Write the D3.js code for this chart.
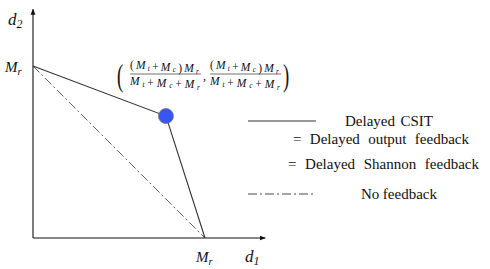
<!DOCTYPE html>
<html>
<head>
<meta charset="utf-8">
<script src="https://cdn.jsdelivr.net/npm/d3@7"></script>
<style>
  body { margin: 0; background: #fff; }
  text { font-family: "Liberation Serif", "DejaVu Serif", serif; fill: #111; }
</style>
</head>
<body>
<script>
// region corners, in units of M_r
const csitRegion = [[0, 1], [0.773, 0.709], [1, 0]];
const noFeedback = [[0, 1], [1, 0]];
const cornerPoint = [0.773, 0.709];
const legendItems = [
  { label: "Delayed CSIT", line: "solid" },
  { label: "= Delayed output feedback", line: null },
  { label: "= Delayed Shannon feedback", line: null },
  { label: "No feedback", line: "dashdot" }
];

let width = 490, height = 269;

let svg = d3.select('body')
  .append('svg')
    .attr('width', width)
    .attr('height', height);

let xScale = d3.scaleLinear().domain([0, 1]).range([33, 205]);
let yScale = d3.scaleLinear().domain([0, 1]).range([238, 66]);

svg.append('defs').append('marker')
    .attr('id', 'arr')
    .attr('viewBox', '0 0 10 10')
    .attr('refX', 9).attr('refY', 5)
    .attr('markerWidth', 6).attr('markerHeight', 6)
    .attr('markerUnits', 'userSpaceOnUse')
    .attr('orient', 'auto')
  .append('path')
    .attr('d', 'M0,1 L10,5 L0,9 z')
    .attr('fill', '#111');

// axes
svg.append('line')
  .attr('x1', xScale(0)).attr('y1', yScale(0))
  .attr('x2', xScale(1.35)).attr('y2', yScale(0))
  .attr('stroke', '#111').attr('stroke-width', 1.1)
  .attr('marker-end', 'url(#arr)');

svg.append('line')
  .attr('x1', xScale(0)).attr('y1', yScale(0))
  .attr('x2', xScale(0)).attr('y2', yScale(1.33))
  .attr('stroke', '#111').attr('stroke-width', 1.1)
  .attr('marker-end', 'url(#arr)');

let line = d3.line().x(d => xScale(d[0])).y(d => yScale(d[1]));

svg.append('path')
  .attr('d', line(noFeedback))
  .attr('fill', 'none')
  .attr('stroke', '#333')
  .attr('stroke-width', 0.8)
  .attr('stroke-dasharray', '9,3,2,3');

svg.append('path')
  .attr('d', line(csitRegion))
  .attr('fill', 'none')
  .attr('stroke', '#333')
  .attr('stroke-width', 1.1);

svg.append('circle')
  .attr('cx', xScale(cornerPoint[0]))
  .attr('cy', yScale(cornerPoint[1]))
  .attr('r', 7.5)
  .attr('fill', '#3a55f5')
  .attr('stroke', '#777')
  .attr('stroke-width', 0.8);

// axis labels
function mathLabel(x, y, main, sub, size) {
  let t = svg.append('text').attr('x', x).attr('y', y)
    .style('font-style', 'italic').style('font-size', size + 'px');
  t.append('tspan').text(main);
  t.append('tspan').attr('dy', 3).style('font-size', (size * 0.7) + 'px').text(sub);
  return t;
}
mathLabel(8, 25, 'd', '2', 17);
mathLabel(5, 72, 'M', 'r', 15);
mathLabel(196, 262, 'M', 'r', 15);
mathLabel(245, 262, 'd', '1', 17);

// corner-point formula
function mathRow(g, x, y, parts, len) {
  let t = g.append('text').attr('x', x).attr('y', y).style('font-size', '11.5px');
  parts.forEach(p => {
    if (p.length === 2) {
      t.append('tspan').style('font-style', 'italic').text(p[0]);
      t.append('tspan').attr('dy', 1.5).style('font-size', '7.5px').style('font-style', 'italic').text(p[1]);
      t.append('tspan').attr('dy', -1.5).text('');
    } else {
      t.append('tspan').text(p[0]);
    }
  });
  t.attr('textLength', len).attr('lengthAdjust', 'spacing');
  return t;
}
let numParts = [['('], ['M', 't'], ['+'], ['M', 'c'], [')'], ['M', 'r']];
let denParts = [['M', 't'], ['+'], ['M', 'c'], ['+'], ['M', 'r']];
let f = svg.append('g');
[130, 210].forEach(x0 => {
  mathRow(f, x0, 69, numParts, 69);
  mathRow(f, x0, 85, denParts, 70);
  f.append('line').attr('x1', x0).attr('x2', x0 + 71).attr('y1', 74).attr('y2', 74)
    .attr('stroke', '#111').attr('stroke-width', 0.6);
});
f.append('text').attr('x', 203).attr('y', 80).style('font-size', '12px').text(',');
[[117, '('], [283, ')']].forEach(p => {
  f.append('text').attr('x', 0).attr('y', 0).style('font-size', '31px')
    .attr('transform', `translate(${p[0]},86) scale(0.6,1)`).text(p[1]);
});

// legend
let legendY = [121, 139, 164, 194];
let legendX = [345, 293, 288, 361];
let legendLen = [88, 176, 191, 76];
legendItems.forEach((d, i) => {
  if (d.line) {
    svg.append('line')
      .attr('x1', 248).attr('x2', 316)
      .attr('y1', legendY[i]).attr('y2', legendY[i])
      .attr('stroke', '#333').attr('stroke-width', d.line === 'solid' ? 1.1 : 0.9)
      .attr('stroke-dasharray', d.line === 'solid' ? null : '9,3,2,3');
  }
  let t = svg.append('text')
    .attr('x', legendX[i]).attr('y', legendY[i] + 5)
    .style('font-size', '15px')
    .text(d.label);
  // widen the gaps between words so each label spans the same width as in the figure
  let natural = t.node().getComputedTextLength();
  let gaps = d.label.split(' ').length - 1;
  t.style('word-spacing', ((legendLen[i] - natural) / gaps) + 'px');
});
</script>
</body>
</html>
